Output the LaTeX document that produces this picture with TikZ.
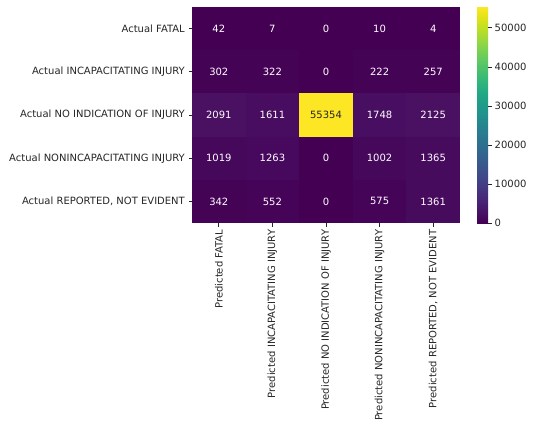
\documentclass[tikz,border=0pt]{standalone}
\usepackage{fontspec}
\setmainfont{DejaVu Sans}
\definecolor{lab}{HTML}{262626}
\definecolor{vA}{HTML}{440154}
\definecolor{vB}{HTML}{450356}
\definecolor{vC}{HTML}{450458}
\definecolor{vD}{HTML}{46085B}
\definecolor{vE}{HTML}{47095D}
\definecolor{vF}{HTML}{470B5E}
\definecolor{vG}{HTML}{480C60}
\definecolor{vH}{HTML}{480E61}
\definecolor{vI}{HTML}{4A1062}
\definecolor{vY}{HTML}{FDE725}
\definecolor{w00}{HTML}{440154}
\definecolor{w05}{HTML}{471365}
\definecolor{w10}{HTML}{482475}
\definecolor{w15}{HTML}{463480}
\definecolor{w20}{HTML}{414487}
\definecolor{w25}{HTML}{3B528B}
\definecolor{w30}{HTML}{355F8D}
\definecolor{w35}{HTML}{2F6C8E}
\definecolor{w40}{HTML}{2A788E}
\definecolor{w45}{HTML}{25848E}
\definecolor{w50}{HTML}{21918C}
\definecolor{w55}{HTML}{1E9C89}
\definecolor{w60}{HTML}{22A884}
\definecolor{w65}{HTML}{2FB47C}
\definecolor{w70}{HTML}{44BF70}
\definecolor{w75}{HTML}{5EC962}
\definecolor{w80}{HTML}{7AD151}
\definecolor{w85}{HTML}{9BD93C}
\definecolor{w90}{HTML}{BDDF26}
\definecolor{w95}{HTML}{DFE318}
\definecolor{w100}{HTML}{FDE725}
\pgfdeclareverticalshading{viridis}{100bp}{color(0bp)=(w00); color(25bp)=(w00); color(27.5bp)=(w05); color(30bp)=(w10); color(32.5bp)=(w15); color(35bp)=(w20); color(37.5bp)=(w25); color(40bp)=(w30); color(42.5bp)=(w35); color(45bp)=(w40); color(47.5bp)=(w45); color(50bp)=(w50); color(52.5bp)=(w55); color(55bp)=(w60); color(57.5bp)=(w65); color(60bp)=(w70); color(62.5bp)=(w75); color(65bp)=(w80); color(67.5bp)=(w85); color(70bp)=(w90); color(72.5bp)=(w95); color(75bp)=(w100); color(100bp)=(w100)}
\tikzset{
  lbl/.style={font=\fontsize{10}{12}\selectfont, text=lab, inner sep=0pt},
  celltxt/.style={font=\fontsize{10}{12}\selectfont, inner sep=0pt},
  tickln/.style={draw=lab, line width=0.8pt}
}
\begin{document}
\begin{tikzpicture}[x=1pt,y=-1pt]
\useasboundingbox (0,0) rectangle (533,432);
\fill[white] (0,0) rectangle (533,432);
% cells
\foreach \r/\c/\v/\col/\tc in {
0/0/42/vA/white,0/1/7/vA/white,0/2/0/vA/white,0/3/10/vA/white,0/4/4/vA/white,
1/0/302/vB/white,1/1/322/vB/white,1/2/0/vA/white,1/3/222/vB/white,1/4/257/vB/white,
2/0/2091/vI/white,2/1/1611/vG/white,2/2/55354/vY/lab,2/3/1748/vH/white,2/4/2125/vI/white,
3/0/1019/vD/white,3/1/1263/vE/white,3/2/0/vA/white,3/3/1002/vD/white,3/4/1365/vF/white,
4/0/342/vB/white,4/1/552/vC/white,4/2/0/vA/white,4/3/575/vC/white,4/4/1361/vF/white}{
  \fill[\col] ({192+53.6*\c},{7+43.2*\r}) rectangle ({192+53.6*(\c+1)+0.3},{7+43.2*(\r+1)+0.3});
  \node[celltxt, text=\tc] (cell\r\c) at ({192+53.6*(\c+0.5)},{7+43.2*(\r+0.5)}) {\v};
}
% row labels
\foreach \r/\t in {0/Actual FATAL,1/Actual INCAPACITATING INJURY,2/Actual NO INDICATION OF INJURY,3/Actual NONINCAPACITATING INJURY,4/Actual REPORTED{,} NOT EVIDENT}{
  \coordinate (rt\r) at (192,{7+43.2*(\r+0.5)});
  \coordinate (rs\r) at (188.5,{7+43.2*(\r+0.5)});
  \draw[tickln] (rt\r) -- (rs\r);
  \node[lbl, anchor=east] (row\r) at (185,{7+43.2*(\r+0.5)}) {\t};
}
% column labels
\foreach \c/\t in {0/Predicted FATAL,1/Predicted INCAPACITATING INJURY,2/Predicted NO INDICATION OF INJURY,3/Predicted NONINCAPACITATING INJURY,4/Predicted REPORTED{,} NOT EVIDENT}{
  \coordinate (ct\c) at ({192+53.6*(\c+0.5)},223);
  \coordinate (cs\c) at ({192+53.6*(\c+0.5)},226.5);
  \draw[tickln] (ct\c) -- (cs\c);
  \node[lbl, anchor=east, rotate=90] (col\c) at ({192+53.6*(\c+0.5)},229.5) {\t};
}
% colorbar
\shade[shading=viridis] (477,7) rectangle (488,223);
\foreach \k/\t in {0/0,1/10000,2/20000,3/30000,4/40000,5/50000}{
  \coordinate (bt\k) at (488,{223-\k*39.022});
  \coordinate (bs\k) at (491.5,{223-\k*39.022});
  \draw[tickln] (bt\k) -- (bs\k);
  \node[lbl, anchor=west] (bl\k) at (494.5,{223-\k*39.022}) {\t};
}
\end{tikzpicture}
\end{document}
